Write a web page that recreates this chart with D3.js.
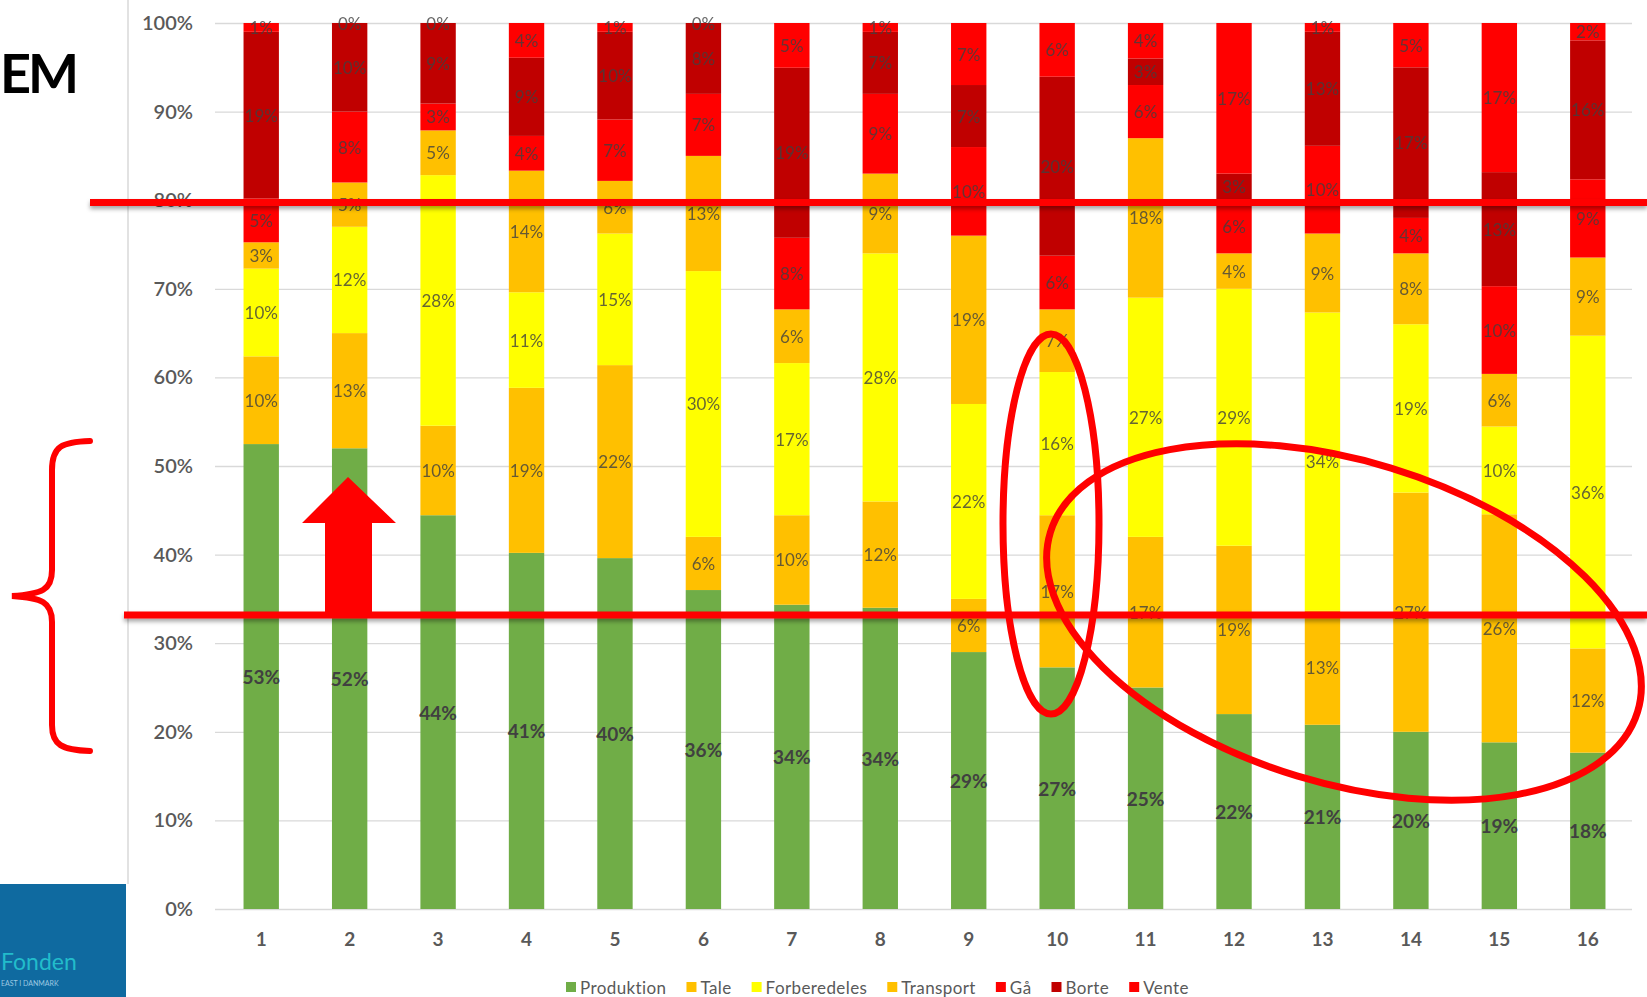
<!DOCTYPE html>
<html>
<head>
<meta charset="utf-8">
<script src="https://cdn.jsdelivr.net/npm/d3@7"></script>
<style>
    body { margin: 0; background: #fff; }
    text { font-family: Lato, "Open Sans", sans-serif; }
</style>
</head>
<body>
<script>
const width = 1647;
const height = 997;
const margin = {
    left: 217,
    right: 15,
    top: 23,
    bottom: 88
}

// categories + series values (labels as shown on the bars)
const weeks = ["1", "2", "3", "4", "5", "6", "7", "8", "9", "10", "11", "12", "13", "14", "15", "16"];
const seriesNames = ["Produktion", "Tale", "Forberedeles", "Transport", "Gå", "Borte", "Vente"];
const produktion = [53, 52, 44, 41, 40, 36, 34, 34, 29, 27, 25, 22, 21, 20, 19, 18];
const tale = [10, 13, 10, 19, 22, 6, 10, 12, 6, 17, 17, 19, 13, 27, 26, 12];
const forberedeles = [10, 12, 28, 11, 15, 30, 17, 28, 22, 16, 27, 29, 34, 19, 10, 36];
const transport = [3, 5, 5, 14, 6, 13, 6, 9, 19, 7, 18, 4, 9, 8, 6, 9];
const gaa = [5, 8, 3, 4, 7, 7, 8, 9, 10, 6, 6, 6, 10, 4, 10, 9];
const borte = [19, 10, 9, 9, 10, 8, 19, 7, 7, 20, 3, 3, 13, 17, 13, 16];
const vente = [1, 0, 0, 4, 1, 0, 5, 1, 7, 6, 4, 17, 1, 5, 17, 2];
const yTicks = [0, 0.1, 0.2, 0.3, 0.4, 0.5, 0.6, 0.7, 0.8, 0.9, 1];

var colors = ["#70AD47", "#FFC000", "#FFFF00", "#FFC000", "#FF0000", "#C00000", "#FF0000"];
var gridColor = "#d9d9d9";
var axisTextColor = "#595959";
var labelColor = "#404040";
var markRed = "#FF0000";

const allSeries = [produktion, tale, forberedeles, transport, gaa, borte, vente];
const table = weeks.map((w, i) => {
    const row = {week: w};
    seriesNames.forEach((s, j) => row[s] = allSeries[j][i]);
    return row;
});

const x = d3.scaleBand().domain(weeks)
    .range([margin.left, width - margin.right])
    .paddingInner(0.6)
    .paddingOuter(0.3);
const y = d3.scaleLinear().domain([0, 1]).range([height - margin.bottom, margin.top]);
const color = d3.scaleOrdinal().domain(seriesNames).range(colors);

const stacked = d3.stack().keys(seriesNames).offset(d3.stackOffsetExpand)(table);

const svg = d3.select("body")
    .append("svg")
    .attr("width", width)
    .attr("height", height)

const defs = svg.append("defs");
defs.append("filter").attr("id", "shadow")
    .attr("filterUnits", "userSpaceOnUse")
    .attr("x", 0).attr("y", 0).attr("width", width).attr("height", height)
    .append("feDropShadow")
    .attr("dx", 0).attr("dy", 3).attr("stdDeviation", 2)
    .attr("flood-color", "#000").attr("flood-opacity", 0.35);

// grid + y axis
svg.append("g")
    .attr("transform", "translate(215,0)")
    .call(d3.axisLeft(y).tickValues(yTicks).tickFormat(d3.format(".0%"))
        .tickSize(-(width - margin.right - 215)).tickPadding(22))
    .call(g => g.select(".domain").remove())
    .call(g => g.selectAll("line").attr("stroke", gridColor).attr("stroke-width", 1.3))
    .call(g => g.selectAll("text").attr("fill", axisTextColor).style("font-size", "20px").attr("font-weight", 600));

// x axis
svg.append("g")
    .attr("transform", "translate(0," + (height - margin.bottom) + ")")
    .call(d3.axisBottom(x).tickSize(0).tickPadding(24))
    .call(g => g.select(".domain").remove())
    .call(g => g.selectAll("text").attr("fill", axisTextColor).style("font-size", "19px").attr("font-weight", 700));

// bars
const layer = svg.selectAll(".layer")
    .data(stacked)
    .join("g")
    .attr("class", "layer")
    .attr("fill", d => color(d.key));

layer.selectAll("rect")
    .data(d => d)
    .join("rect")
    .attr("x", d => x(d.data.week))
    .attr("y", d => y(d[1]))
    .attr("width", x.bandwidth())
    .attr("height", d => y(d[0]) - y(d[1]));

// data labels
svg.selectAll(".labels")
    .data(stacked)
    .join("g")
    .attr("class", "labels")
    .each(function (s) {
        d3.select(this).selectAll("text")
            .data(s)
            .join("text")
            .attr("x", d => x(d.data.week) + x.bandwidth() / 2)
            .attr("y", d => y((d[0] + d[1]) / 2))
            .attr("text-anchor", "middle")
            .attr("dominant-baseline", "central")
            .attr("fill", labelColor)
            .attr("opacity", s.key === "Produktion" ? 1 : 0.8)
            .attr("font-weight", s.key === "Produktion" ? 700 : 400)
            .style("font-size", s.key === "Produktion" ? "19px" : "17px")
            .text(d => d.data[s.key] + "%");
    });

// legend
const legend = svg.append("g").attr("transform", "translate(566,987)");
let lx = 0;
seriesNames.forEach(name => {
    const item = legend.append("g").attr("transform", "translate(" + lx + ",0)");
    item.append("rect").attr("x", 0).attr("y", -5).attr("width", 10).attr("height", 10).attr("fill", color(name));
    const t = item.append("text")
        .attr("x", 14)
        .attr("dominant-baseline", "central")
        .attr("fill", axisTextColor)
        .style("font-size", "17px")
        .style("letter-spacing", "0.4px")
        .text(name);
    lx += 14 + t.node().getComputedTextLength() + 20;
});

// slide bits around the chart
svg.append("line")
    .attr("x1", 128).attr("x2", 128).attr("y1", 0).attr("y2", 884)
    .attr("stroke", gridColor).attr("stroke-width", 1.5);

svg.append("text")
    .attr("x", 0).attr("y", 93)
    .attr("font-weight", 700)
    .style("font-size", "54px")
    .style("letter-spacing", "-3px")
    .attr("fill", "#000")
    .text("EM");

svg.append("rect")
    .attr("x", 0).attr("y", 884).attr("width", 126).attr("height", height - 884)
    .attr("fill", "#0f6aa0");
svg.append("text")
    .attr("x", 1).attr("y", 970)
    .style("font-size", "23px")
    .attr("fill", "#22bccb")
    .text("Fonden");
svg.append("text")
    .attr("x", 1).attr("y", 986)
    .style("font-size", "7px")
    .attr("fill", "#9cc9e2")
    .text("EAST I DANMARK");

// red annotations
svg.append("rect")
    .attr("x", 90).attr("y", 199).attr("width", width - 90).attr("height", 7)
    .attr("fill", markRed)
    .attr("filter", "url(#shadow)");
svg.append("rect")
    .attr("x", 124).attr("y", 611.5).attr("width", width - 124).attr("height", 7)
    .attr("fill", markRed)
    .attr("filter", "url(#shadow)");

svg.append("polygon")
    .attr("points", "348,477 396,523 372,523 372,613 325,613 325,523 302,523")
    .attr("fill", markRed);

svg.append("path")
    .attr("d", "M90,441 C62,442 52,446 52,470 L52,570 C52,590 42,594 12,596 C42,598 52,602 52,622 L52,725 C52,745 62,750 90,751")
    .attr("fill", "none")
    .attr("stroke", markRed)
    .attr("stroke-width", 6)
    .attr("stroke-linecap", "round");

svg.append("ellipse")
    .attr("cx", 1051).attr("cy", 524).attr("rx", 48).attr("ry", 190)
    .attr("fill", "none").attr("stroke", markRed).attr("stroke-width", 7);

svg.append("ellipse")
    .attr("cx", 0).attr("cy", 0).attr("rx", 307).attr("ry", 161)
    .attr("transform", "translate(1344,622) rotate(17)")
    .attr("fill", "none").attr("stroke", markRed).attr("stroke-width", 7);
</script>
</body>
</html>
